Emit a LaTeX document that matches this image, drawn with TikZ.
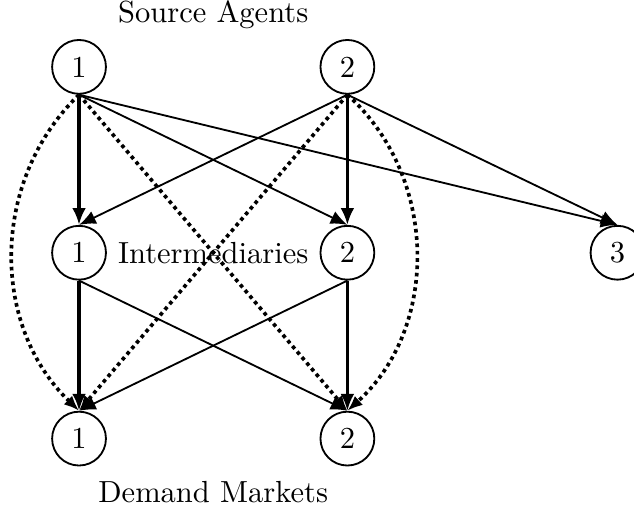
\documentclass[tikz,border=0pt]{standalone}
\usetikzlibrary{arrows.meta}

\begin{document}
\begin{tikzpicture}[
  nd/.style={draw, circle, line width=0.6pt, minimum size=0.62cm, inner sep=0pt},
  fl/.style={-{Latex[length=5.5pt,width=4.5pt]}, line width=0.6pt},
  fm/.style={-{Latex[length=5.5pt,width=4.5pt]}, line width=1pt},
  fh/.style={-{Latex[length=5.5pt,width=4.5pt]}, line width=1.4pt},
  dt/.style={-{Latex[length=5pt,width=4pt]}, line width=1.2pt, dash pattern=on 1.2pt off 1.2pt}]

  \useasboundingbox (0,0) rectangle (7.30,-5.85);

  % source agents
  \node[nd] (s1) at (0.91,-0.77) {1};
  \node[nd] (s2) at (4.00,-0.77) {2};
  \node at (2.455,-0.17) {Source Agents};

  % intermediaries
  \node[nd] (i1) at (0.91,-2.91) {1};
  \node[nd] (i2) at (4.00,-2.91) {2};
  \node[nd] (i3) at (7.11,-2.91) {3};
  \node at (2.455,-2.91) {Intermediaries};

  % demand markets
  \node[nd] (d1) at (0.91,-5.05) {1};
  \node[nd] (d2) at (4.00,-5.05) {2};
  \node at (2.455,-5.67) {Demand Markets};

  % links out of source 1
  \draw[fh] (s1.south) -- (i1.north);
  \draw[fl] (s1.south) -- (i2.north);
  \draw[fl] (s1.south) -- (i3.north);
  \draw[dt] (s1.south) to[bend right=46] (d1.north);
  \draw[dt] (s1.south) -- (d2.north);

  % links out of source 2
  \draw[fl] (s2.south) -- (i1.north);
  \draw[fm] (s2.south) -- (i2.north);
  \draw[fl] (s2.south) -- (i3.north);
  \draw[dt] (s2.south) -- (d1.north);
  \draw[dt] (s2.south) to[bend left=48] (d2.north);

  % intermediaries to markets
  \draw[fh] (i1.south) -- (d1.north);
  \draw[fl] (i1.south) -- (d2.north);
  \draw[fl] (i2.south) -- (d1.north);
  \draw[fm] (i2.south) -- (d2.north);

\end{tikzpicture}
\end{document}
